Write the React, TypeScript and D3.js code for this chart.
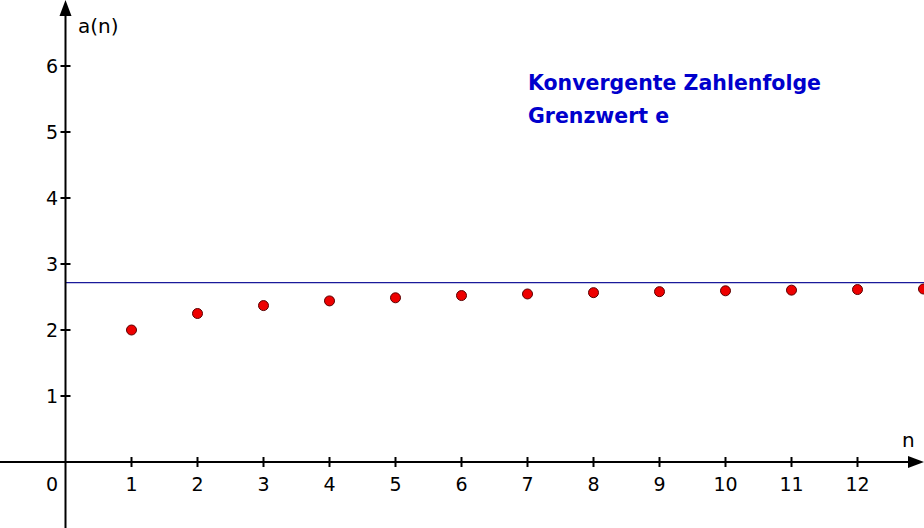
import { useEffect, useRef } from 'react';
import * as d3 from 'd3';

const nValues = [1, 2, 3, 4, 5, 6, 7, 8, 9, 10, 11, 12, 13];
const aValues = [2.0, 2.25, 2.37, 2.441, 2.488, 2.522, 2.546, 2.566, 2.581, 2.594, 2.604, 2.613, 2.621];
const xTicks = [1, 2, 3, 4, 5, 6, 7, 8, 9, 10, 11, 12];
const yTicks = [1, 2, 3, 4, 5, 6];
const limit = 2.718;
const titleLines = ['Konvergente Zahlenfolge', 'Grenzwert e'];

const W = 924;
const H = 528;
const font = '"DejaVu Sans", Verdana, sans-serif';

export default function App() {
  const svgRef = useRef<SVGSVGElement>(null);

  useEffect(() => {
    if (!svgRef.current) return;
    document.body.style.margin = '0';
    const svg = d3.select(svgRef.current);
    svg.selectAll('*').remove();

    const x = d3.scaleLinear().domain([0, 13]).range([65.5, 923.5]);
    const y = d3.scaleLinear().domain([0, 7]).range([462, 0]);

    // limit line
    svg.append('line')
      .attr('x1', x(0)).attr('x2', W)
      .attr('y1', y(limit)).attr('y2', y(limit))
      .attr('stroke', '#1a1a9a').attr('stroke-width', 1.2);

    // axes
    svg.append('line')
      .attr('x1', 0).attr('x2', W - 10)
      .attr('y1', y(0)).attr('y2', y(0))
      .attr('stroke', '#000').attr('stroke-width', 2);
    svg.append('line')
      .attr('x1', x(0)).attr('x2', x(0))
      .attr('y1', H).attr('y2', 12)
      .attr('stroke', '#000').attr('stroke-width', 2);

    // arrows
    svg.append('path')
      .attr('d', `M${W},${y(0)} L${W - 16},${y(0) - 6} L${W - 16},${y(0) + 6} Z`)
      .attr('fill', '#000');
    svg.append('path')
      .attr('d', `M${x(0)},0 L${x(0) - 6},16 L${x(0) + 6},16 Z`)
      .attr('fill', '#000');

    // x ticks
    const gx = svg.append('g');
    gx.selectAll('line').data(xTicks).join('line')
      .attr('x1', d => x(d)).attr('x2', d => x(d))
      .attr('y1', y(0) - 5).attr('y2', y(0) + 5)
      .attr('stroke', '#000').attr('stroke-width', 2);
    gx.selectAll('text').data(xTicks).join('text')
      .attr('x', d => x(d)).attr('y', 491)
      .attr('text-anchor', 'middle')
      .attr('font-family', font).attr('font-size', 19)
      .text(d => d);
    svg.append('text')
      .attr('x', 52).attr('y', 491)
      .attr('text-anchor', 'middle')
      .attr('font-family', font).attr('font-size', 19)
      .text('0');

    // y ticks
    const gy = svg.append('g');
    gy.selectAll('line').data(yTicks).join('line')
      .attr('x1', x(0) - 5).attr('x2', x(0) + 5)
      .attr('y1', d => y(d)).attr('y2', d => y(d))
      .attr('stroke', '#000').attr('stroke-width', 2);
    gy.selectAll('text').data(yTicks).join('text')
      .attr('x', 58).attr('y', d => y(d) + 7)
      .attr('text-anchor', 'end')
      .attr('font-family', font).attr('font-size', 19)
      .text(d => d);

    // axis labels
    svg.append('text')
      .attr('x', 78).attr('y', 33)
      .attr('font-family', font).attr('font-size', 20)
      .text('a(n)');
    svg.append('text')
      .attr('x', 902).attr('y', 447)
      .attr('font-family', font).attr('font-size', 20)
      .text('n');

    // title
    svg.append('g').selectAll('text').data(titleLines).join('text')
      .attr('x', 528).attr('y', (_, i) => 89.5 + i * 33.5)
      .attr('font-family', font).attr('font-size', 20.5).attr('font-weight', 'bold')
      .attr('fill', '#0000cc')
      .text(d => d);

    // points
    svg.append('g').selectAll('circle').data(nValues).join('circle')
      .attr('cx', d => x(d))
      .attr('cy', (_, i) => y(aValues[i]))
      .attr('r', 5)
      .attr('fill', '#ee0000')
      .attr('stroke', '#5a0000')
      .attr('stroke-width', 1);
  }, []);

  return (
    <svg ref={svgRef} width={W} height={H} style={{ display: 'block', background: '#fff' }} />
  );
}
